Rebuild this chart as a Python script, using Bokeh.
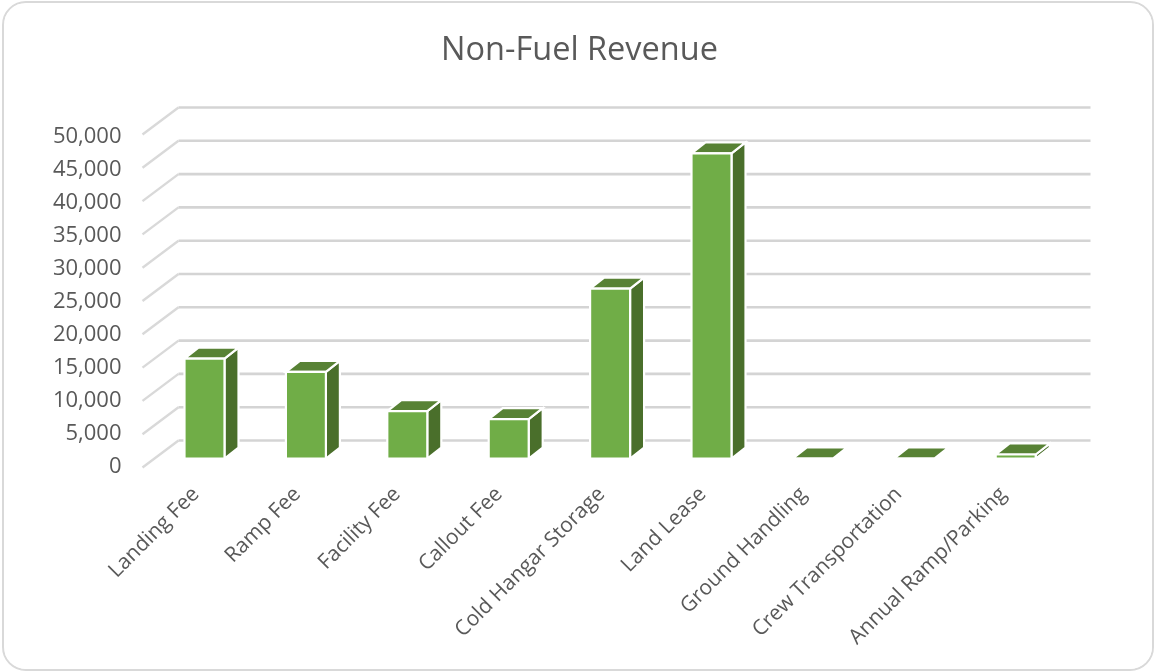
from bokeh.plotting import figure
from bokeh.models import Range1d, LinearAxis, FixedTicker
from bokeh.core.properties import value
from bokeh.embed import file_html
from bokeh.resources import INLINE

TITLE = "Non-Fuel Revenue"
CATEGORIES = ["Landing Fee", "Ramp Fee", "Facility Fee", "Callout Fee", "Cold Hangar Storage",
              "Land Lease", "Ground Handling", "Crew Transportation", "Annual Ramp/Parking"]
VALUES = [15000, 13000, 7100, 5900, 25500, 45800, 0, 0, 600]
Y_TICKS = [0, 5000, 10000, 15000, 20000, 25000, 30000, 35000, 40000, 45000, 50000]
LABEL_NUDGE_PX = [0, 0, -1.5, -1, 0, 0, -1, -7, -4]

# layout (page pixels)
BORDER = 2
PAGE_X, PAGE_Y = 4, 3
W, H = 1148, 666
F_L, F_R, F_T, F_B = 135, 1100, 20, 472
X0_PX, STEP_PX = 204.0, 101.4          # first category centre, category spacing
BASE_PX = 458.0                        # bar base
S = 333 / 50000                        # px per unit, walls and bars
LABEL_ZERO_PX, LABEL_S = 464.0, 330 / 50000
LABEL_SHIFT_PX = 10

def xd(px):
    return (px - X0_PX) / STEP_PX

def yd(px):
    return (BASE_PX - px) / S

x_range = Range1d(xd(F_L), xd(F_R))
y_range = Range1d(yd(F_B), yd(F_T))

p = figure(width=W, height=H, x_range=x_range, y_range=y_range, output_backend="svg",
           toolbar_location=None, y_axis_location=None, x_axis_location=None,
           background_fill_color="white",
           border_fill_color="white", outline_line_color=None,
           min_border_left=F_L - PAGE_X, min_border_right=PAGE_X + W - F_R + 2 * BORDER,
           min_border_top=F_T - PAGE_Y, min_border_bottom=PAGE_Y + H - F_B + 2 * BORDER,
           styles={"position": "fixed", "left": f"{PAGE_X-BORDER}px", "top": f"{PAGE_Y-BORDER}px",
                   "border": f"{BORDER}px solid #d9d9d9", "border-radius": "24px",
                   "overflow": "hidden", "box-sizing": "content-box"})
p.grid.visible = False

p.text(x=[xd(579)], y=[yd(47)], text=[TITLE], text_align="center", text_baseline="middle",
       text_font=value("Open Sans"), text_font_size=value("32.5px"), text_color="#595959")

# y axis labels, on their own scale
p.extra_y_ranges["labels"] = Range1d((LABEL_ZERO_PX - F_B) / LABEL_S, (LABEL_ZERO_PX - F_T) / LABEL_S)
yaxis = LinearAxis(y_range_name="labels", ticker=FixedTicker(ticks=Y_TICKS),
                   major_label_overrides={v: f"{v:,}" for v in Y_TICKS},
                   axis_line_color=None, major_tick_line_color=None, minor_tick_line_color=None,
                   major_tick_out=0, major_tick_in=0, major_label_standoff=14,
                   major_label_text_font="Open Sans", major_label_text_font_size="22px",
                   major_label_text_font_style="normal", major_label_text_color="#595959")
p.add_layout(yaxis, "left")

# x axis, labels sit slightly left of the column centres
p.extra_x_ranges["labels"] = Range1d(xd(F_L + LABEL_SHIFT_PX), xd(F_R + LABEL_SHIFT_PX))
label_ticks = [round(i + n / STEP_PX, 4) for i, n in enumerate(LABEL_NUDGE_PX)]
xa = LinearAxis(x_range_name="labels", ticker=FixedTicker(ticks=label_ticks),
                major_label_overrides=dict(zip(label_ticks, CATEGORIES)),
                major_label_orientation=0.785,
                axis_line_color=None, major_tick_line_color=None, minor_tick_line_color=None,
                major_tick_out=0, major_tick_in=0, major_label_standoff=17,
                major_label_text_font="Open Sans", major_label_text_font_size="21px",
                major_label_text_font_style="normal", major_label_text_color="#595959")
p.add_layout(xa, "below")

# gridlines: back wall and left wall
WALL_Y0 = yd(440)
FRONT_Y0 = yd(467)
wall_l, wall_r, front_l = xd(178), xd(1090), xd(142)
p.multi_line([[wall_l, wall_r] for _ in Y_TICKS],
             [[WALL_Y0 + v, WALL_Y0 + v] for v in Y_TICKS],
             line_color="#d4d4d4", line_width=2.6)
p.multi_line([[front_l, wall_l] for _ in Y_TICKS],
             [[FRONT_Y0 + v, WALL_Y0 + v] for v in Y_TICKS],
             line_color="#d9d9d9", line_width=2.4)

# 3-D columns
HALF = 20 / STEP_PX
DX, DY = 14 / STEP_PX, 11 / S
BASE = yd(BASE_PX)
idx = list(range(len(VALUES)))
tops = [BASE + v for v in VALUES]
OUT = dict(line_color="white", line_width=2.2, line_join="miter")
p.patches([[i + HALF, i + HALF + DX, i + HALF + DX, i + HALF] for i in idx],
          [[BASE, BASE + DY, t + DY, t] for t in tops],
          fill_color="#4a6f2b", **OUT)
p.patches([[i - HALF, i - HALF + DX, i + HALF + DX, i + HALF] for i in idx],
          [[t, t + DY, t + DY, t] for t in tops],
          fill_color="#588235", **OUT)
p.quad(left=[i - HALF for i in idx], right=[i + HALF for i in idx], bottom=[BASE] * len(idx), top=tops,
       fill_color="#70ad47", **OUT)

open("out.html", "w").write(file_html(p, INLINE))
